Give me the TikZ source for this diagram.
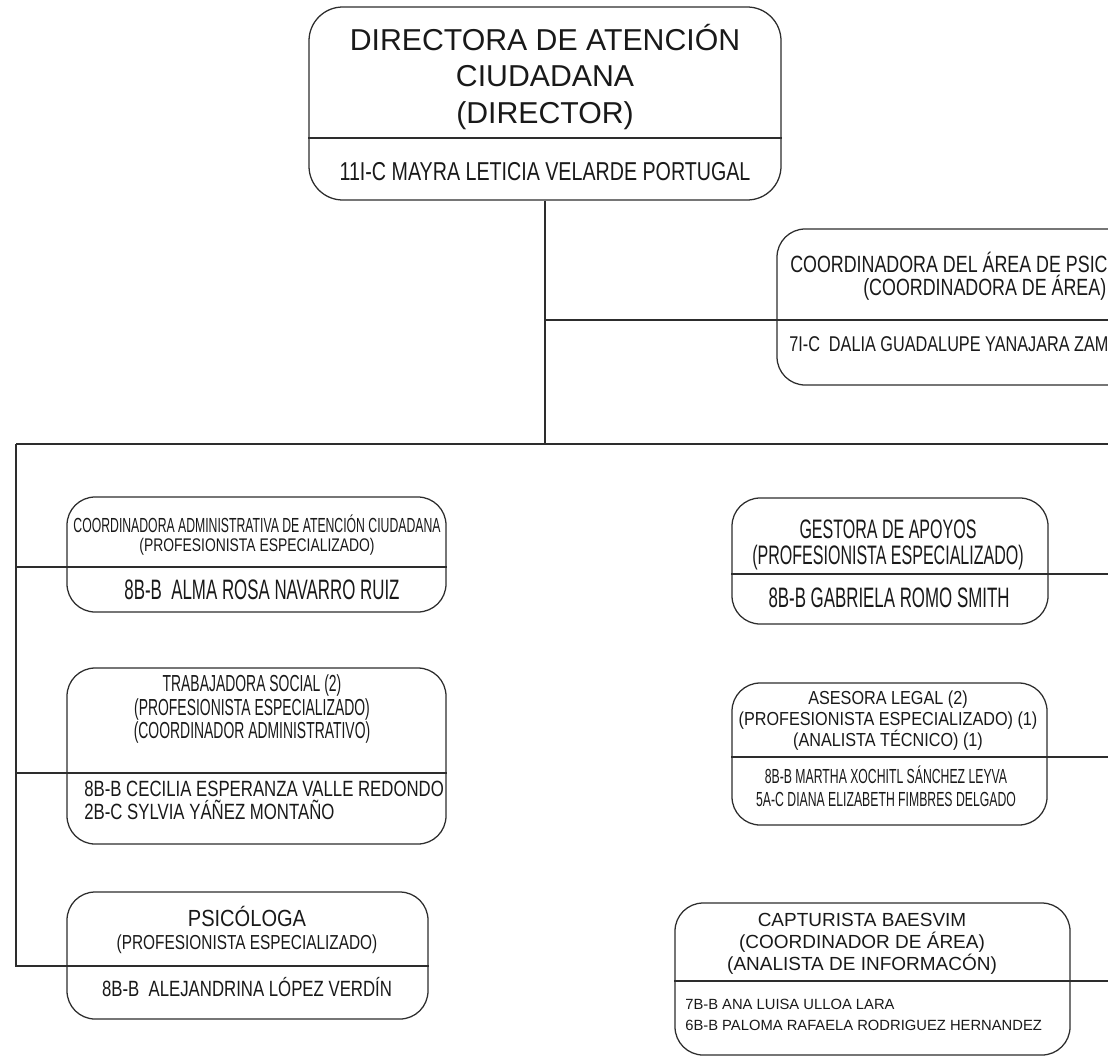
\documentclass[tikz,border=0pt]{standalone}
\usepackage{fontspec}
\setmainfont{Liberation Sans}
\newfontfamily\semifont[FakeStretch=0.86]{Liberation Sans}
\newfontfamily\narrowfont[FakeStretch=0.76]{Liberation Sans}
\newfontfamily\condfont[FakeStretch=0.60]{Liberation Sans}
\newcommand{\fsz}[2]{\fontsize{#1}{#2}\lineskiplimit=-20pt\selectfont}
\usetikzlibrary{fit}
\definecolor{inkgray}{RGB}{45,45,45}

\begin{document}
\begin{tikzpicture}[x=0.025cm, y=-0.025cm,
    box/.style={draw=inkgray, line width=0.9pt, rounded corners=20pt, inner sep=0pt},
    wire/.style={draw=inkgray, line width=0.9pt},
    txt/.style={inner sep=0pt, align=center, text=black!90}]
    \useasboundingbox (0,0) rectangle (1108,1058);
    \clip (0,0) rectangle (1108,1058);

    % Director
    \node[box, rounded corners=24pt, fit={(309,7) (781,200)}] (dir) {};
    \coordinate (dirdiv) at (545,138);
    \draw[wire] (dir.west |- dirdiv) -- (dir.east |- dirdiv);
    \node[txt, font=\fsz{21.5}{26}] at (545,77) (dirT) {DIRECTORA DE ATENCIÓN\\CIUDADANA\\(DIRECTOR)};
    \node[txt, font=\narrowfont\fsz{18.4}{20}] at (545,172) (dirN) {11I-C MAYRA LETICIA VELARDE PORTUGAL};

    % Main spine
    \coordinate (hub) at (545,444);
    \coordinate (lspine) at (16,444);
    \coordinate (rspine) at (1120,444);
    \coordinate (lend) at (16,966);
    \draw[wire] (dir.south) -- (hub);
    \draw[wire] (lspine) -- (rspine);

    % Coordinadora (right, cut by the page)
    \node[box, fit={(777,229) (1250,385)}] (coord) {};
    \coordinate (cdiv) at (545,320);
    \draw[wire] (cdiv) -- (cdiv -| coord.east);
    \node[txt, anchor=west, font=\narrowfont\fsz{16.7}{18}] at (790,262) (coordT) {COORDINADORA DEL ÁREA DE PSIC};
    \node[txt, anchor=west, font=\narrowfont\fsz{16.7}{18}] at (863,288) (coordS) {(COORDINADORA DE ÁREA)};
    \node[txt, anchor=west, font=\narrowfont\fsz{15.2}{17}] at (789,344) (coordN) {7I-C\ \ DALIA GUADALUPE YANAJARA ZAM};

    % Coordinadora administrativa
    \node[box, fit={(67,497) (446,612)}] (admin) {};
    \coordinate (adiv) at (16,567);
    \draw[wire] (adiv) -- (adiv -| admin.east);
    \node[txt, font=\condfont\fsz{14.5}{16}] at (257,524) (adminT) {COORDINADORA ADMINISTRATIVA DE ATENCIÓN CIUDADANA};
    \node[txt, font=\narrowfont\fsz{13}{15}] at (257,547) (adminS) {(PROFESIONISTA ESPECIALIZADO)};
    \node[txt, font=\condfont\fsz{20}{22}] at (262,590) (adminN) {8B-B\ \ ALMA ROSA NAVARRO RUIZ};

    % Trabajadora social
    \node[box, fit={(67,668) (446,844)}] (social) {};
    \coordinate (sdiv) at (16,773);
    \draw[wire] (sdiv) -- (sdiv -| social.east);
    \node[txt, font=\condfont\fsz{16.5}{17}] at (252,709) (socialT) {TRABAJADORA SOCIAL (2)\\(PROFESIONISTA ESPECIALIZADO)\\(COORDINADOR ADMINISTRATIVO)};
    \node[txt, anchor=west, align=left, font=\narrowfont\fsz{15.7}{16.5}] at (84,800) (socialN) {8B-B CECILIA ESPERANZA VALLE REDONDO\\2B-C SYLVIA YÁÑEZ MONTAÑO};

    % Psicologa
    \node[box, fit={(67,892) (428,1019)}] (psico) {};
    \draw[wire] (lspine) -- (lend) -- (lend -| psico.east);
    \node[txt, font=\semifont\fsz{16.6}{18}] at (247,916) (psicoT) {PSICÓLOGA};
    \node[txt, font=\narrowfont\fsz{14.4}{16}] at (247,944) (psicoS) {(PROFESIONISTA ESPECIALIZADO)};
    \node[txt, font=\narrowfont\fsz{15.7}{17}] at (247,987) (psicoN) {8B-B\ \ ALEJANDRINA LÓPEZ VERDÍN};

    % Gestora de apoyos
    \node[box, fit={(732,498) (1048,624)}] (gest) {};
    \coordinate (gdiv) at (1120,574);
    \draw[wire] (gest.west |- gdiv) -- (gdiv);
    \node[txt, font=\condfont\fsz{19}{18}] at (888,545) (gestT) {GESTORA DE APOYOS\\(PROFESIONISTA ESPECIALIZADO)};
    \node[txt, font=\condfont\fsz{20}{22}] at (889,598) (gestN) {8B-B GABRIELA ROMO SMITH};

    % Asesora legal
    \node[box, fit={(732,683) (1047,825)}] (legal) {};
    \coordinate (ldiv) at (1120,757);
    \draw[wire] (legal.west |- ldiv) -- (ldiv);
    \node[txt, font=\semifont\fsz{13.4}{15}] at (888,721) (legalT) {ASESORA LEGAL (2)\\(PROFESIONISTA ESPECIALIZADO) (1)\\(ANALISTA TÉCNICO) (1)};
    \node[txt, font=\condfont\fsz{14.5}{16}] at (886,786) (legalN) {8B-B MARTHA XOCHITL SÁNCHEZ LEYVA\\5A-C DIANA ELIZABETH FIMBRES DELGADO};

    % Capturista
    \node[box, fit={(675,903) (1070,1055)}] (capt) {};
    \coordinate (kdiv) at (1120,981);
    \draw[wire] (capt.west |- kdiv) -- (kdiv);
    \node[txt, font=\fsz{13.5}{15.5}] at (862,944) (captT) {CAPTURISTA BAESVIM\\(COORDINADOR DE ÁREA)\\(ANALISTA DE INFORMACÓN)};
    \node[txt, anchor=west, align=left, font=\fsz{10.5}{15}] at (685,1015) (captN) {7B-B ANA LUISA ULLOA LARA\\6B-B PALOMA RAFAELA RODRIGUEZ HERNANDEZ};
\end{tikzpicture}
\end{document}
